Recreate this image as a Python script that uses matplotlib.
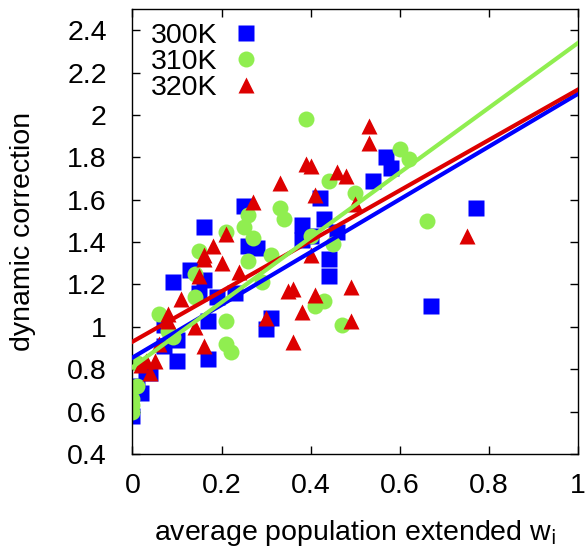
import numpy as np
import matplotlib as mpl
mpl.use("Agg")
import matplotlib.pyplot as plt
from matplotlib.ticker import FormatStrFormatter

# 300K (blue squares)
x300 = [0.00, 0.01, 0.02, 0.03, 0.04, 0.07, 0.07, 0.10, 0.10, 0.09, 0.13,
        0.16, 0.16, 0.15, 0.19, 0.17, 0.17, 0.23, 0.25, 0.26, 0.30, 0.31,
        0.38, 0.38, 0.40, 0.42, 0.43, 0.44, 0.44, 0.46, 0.54, 0.57, 0.58,
        0.67, 0.77, 0.28]
y300 = [0.58, 0.72, 0.69, 0.79, 0.78, 1.01, 0.91, 0.94, 0.84, 1.21, 1.27,
        1.47, 1.22, 1.16, 1.14, 1.03, 0.85, 1.16, 1.57, 1.38, 0.99, 1.04,
        1.48, 1.41, 1.43, 1.61, 1.51, 1.32, 1.24, 1.45, 1.69, 1.80, 1.75,
        1.10, 1.56, 1.37]

# 310K (green circles)
x310 = [0.00, 0.00, 0.00, 0.01, 0.01, 0.06, 0.08, 0.09, 0.14, 0.14, 0.15,
        0.21, 0.21, 0.21, 0.22, 0.26, 0.25, 0.27, 0.26, 0.29, 0.31, 0.33,
        0.34, 0.39, 0.40, 0.41, 0.43, 0.44, 0.45, 0.47, 0.50, 0.60, 0.62,
        0.66]
y310 = [0.60, 0.63, 0.66, 0.72, 0.83, 1.06, 0.98, 0.95, 1.14, 1.25, 1.36,
        1.45, 1.03, 0.92, 0.88, 1.53, 1.47, 1.42, 1.31, 1.21, 1.34, 1.56,
        1.51, 1.98, 1.43, 1.10, 1.12, 1.69, 1.39, 1.01, 1.63, 1.84, 1.79,
        1.50]

# 320K (red triangles)
x320 = [0.02, 0.03, 0.04, 0.05, 0.06, 0.08, 0.08, 0.11, 0.14, 0.16, 0.15,
        0.16, 0.16, 0.18, 0.20, 0.21, 0.24, 0.27, 0.30, 0.33, 0.35, 0.36,
        0.36, 0.38, 0.39, 0.40, 0.40, 0.41, 0.41, 0.46, 0.48, 0.49, 0.49,
        0.50, 0.53, 0.53, 0.75]
y320 = [0.82, 0.84, 0.78, 0.84, 0.92, 1.06, 1.03, 1.13, 1.00, 0.91, 1.24,
        1.34, 1.32, 1.38, 1.30, 1.44, 1.26, 1.59, 1.04, 1.68, 1.17, 0.93,
        1.18, 1.07, 1.77, 1.76, 1.34, 1.62, 1.15, 1.73, 1.71, 1.19, 1.03,
        1.58, 1.95, 1.87, 1.43]

# linear fits (intercept, slope)
fit300 = (0.855, 1.245)
fit310 = (0.81, 1.53)
fit320 = (0.93, 1.19)

blue = "#0000ff"
green = "#90ee50"
red = "#dd0000"

plt.rcParams['font.family'] = ['Liberation Sans', 'DejaVu Sans']
fs = 20.5

fig = plt.figure(figsize=(5.87, 5.47), dpi=100)
ax = fig.add_axes([0.2257, 0.170, 0.759, 0.8135])

xx = np.array([0.0, 1.0])
ax.plot(xx, fit300[0] + fit300[1] * xx, color=blue, lw=3, zorder=3)
ax.plot(xx, fit320[0] + fit320[1] * xx, color=red, lw=3, zorder=3)
ax.plot(xx, fit310[0] + fit310[1] * xx, color=green, lw=3, zorder=3)

ax.plot(x300, y300, 's', color=blue, ms=11, mec='none', label='300K', zorder=2)
ax.plot(x310, y310, 'o', color=green, ms=11.5, mec='none', label='310K', zorder=2)
ax.plot(x320, y320, '^', color=red, ms=11, mec='none', label='320K', zorder=2)

ax.set_xlim(0, 1)
ax.set_ylim(0.4, 2.5)
ax.set_xticks(np.arange(0, 1.01, 0.2))
ax.set_yticks(np.arange(0.4, 2.41, 0.2))
ax.xaxis.set_major_formatter(FormatStrFormatter('%g'))
ax.yaxis.set_major_formatter(FormatStrFormatter('%g'))
ax.tick_params(direction='in', top=True, right=True, length=6, width=1,
               labelsize=fs)
ax.tick_params(axis='x', pad=14)
ax.tick_params(axis='y', pad=18.5)
for s in ax.spines.values():
    s.set_linewidth(1)

ax.set_xlabel(r'average population extended w$_\mathrm{i}$', fontsize=fs,
              labelpad=13)
ax.set_ylabel('dynamic correction', fontsize=fs, labelpad=22)

leg = ax.legend(loc='upper left', frameon=False, markerfirst=False,
                fontsize=fs, handlelength=1.0, handletextpad=0.5,
                labelspacing=0.0, borderaxespad=0.0,
                bbox_to_anchor=(0.015, 0.995))

plt.savefig('out.png', dpi=100)
